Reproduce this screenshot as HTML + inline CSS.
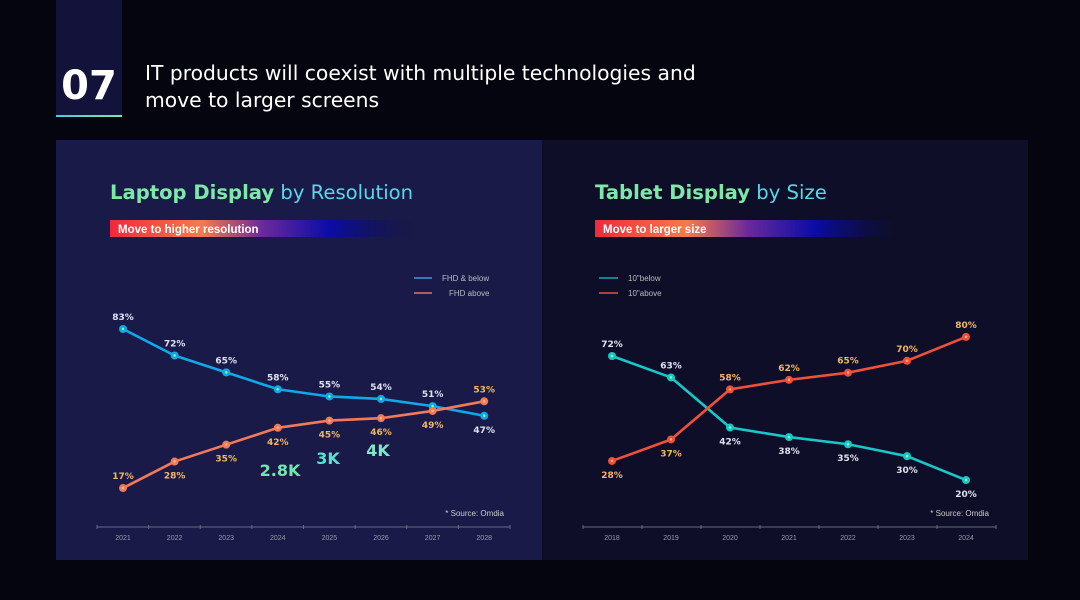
<!DOCTYPE html>
<html><head><meta charset="utf-8"><style>
html,body{margin:0;padding:0;background:#05050f;width:1080px;height:600px;overflow:hidden}
svg{display:block}
text{font-family:"Liberation Sans",sans-serif}
.dv{font-family:"DejaVu Sans","Liberation Sans",sans-serif}
</style></head><body>
<svg id="s" width="1080" height="600" viewBox="0 0 1080 600" xmlns="http://www.w3.org/2000/svg">
<defs>
<linearGradient id="bar" x1="0" x2="1" y1="0" y2="0">
<stop offset="0" stop-color="#f0283c"/><stop offset="0.3" stop-color="#f77a4a"/><stop offset="0.5" stop-color="#6a2a9a"/><stop offset="0.72" stop-color="#0a0ca8"/><stop offset="1" stop-color="#0a0c50" stop-opacity="0"/>
</linearGradient>
<linearGradient id="ul" x1="0" x2="1"><stop offset="0" stop-color="#4ac8e8"/><stop offset="1" stop-color="#7ee8a8"/></linearGradient>
</defs>
<rect x="0" y="0" width="1080" height="600" fill="#05050f"/>
<rect x="56" y="0" width="66" height="116" fill="#12123a"/>
<rect x="56" y="115" width="66" height="2" fill="url(#ul)"/>
<text class="dv" x="89" y="99" text-anchor="middle" font-size="40" font-weight="bold" fill="#fff">07</text>
<text class="dv" x="145" y="80" font-size="20.3" fill="#fff">IT products will coexist with multiple technologies and</text>
<text class="dv" x="145" y="107" font-size="20.3" fill="#fff">move to larger screens</text>
<rect x="56" y="140" width="486" height="420" fill="#1a1a48"/>
<rect x="542" y="140" width="486" height="420" fill="#0e0e28"/>
<text class="dv" x="110" y="199" font-size="19.6" fill="#7ee8a8"><tspan font-weight="bold">Laptop Display</tspan><tspan fill="#5ad8e8"> by Resolution</tspan></text>
<rect x="110" y="220" width="305" height="17" fill="url(#bar)"/>
<text x="118" y="233" font-size="11.5" font-weight="bold" fill="#fff">Move to higher resolution</text>
<text class="dv" x="595" y="199" font-size="19.6" fill="#7ee8a8"><tspan font-weight="bold">Tablet Display</tspan><tspan fill="#5ad8e8"> by Size</tspan></text>
<rect x="595" y="220" width="305" height="17" fill="url(#bar)"/>
<text x="603" y="233" font-size="11.5" font-weight="bold" fill="#fff">Move to larger size</text>
<line x1="414" y1="278" x2="432" y2="278" stroke="#3a9ad8" stroke-width="1.5"/>
<text x="442" y="281" font-size="8" fill="#bbb">FHD &amp; below</text>
<line x1="414" y1="293" x2="432" y2="293" stroke="#e87060" stroke-width="1.5"/>
<text x="449" y="296" font-size="8" fill="#bbb">FHD above</text>
<line x1="599" y1="278" x2="618" y2="278" stroke="#18a8b0" stroke-width="1.5"/>
<text x="628" y="281" font-size="8" fill="#bbb">10"below</text>
<line x1="599" y1="293" x2="618" y2="293" stroke="#e85040" stroke-width="1.5"/>
<text x="628" y="296" font-size="8" fill="#bbb">10"above</text>
<text class="dv" x="280" y="476" text-anchor="middle" font-size="16" font-weight="bold" fill="#6ee8b0">2.8K</text>
<text class="dv" x="328" y="464" text-anchor="middle" font-size="16" font-weight="bold" fill="#5ae0d0">3K</text>
<text class="dv" x="378" y="456" text-anchor="middle" font-size="16" font-weight="bold" fill="#7ee8c8">4K</text>
<text x="504" y="516" text-anchor="end" font-size="8" fill="#ccc">* Source: Omdia</text>
<text x="989" y="516" text-anchor="end" font-size="8" fill="#ccc">* Source: Omdia</text>
<g id="charts"></g>
</svg>
<script>
const laptopYears=["2021","2022","2023","2024","2025","2026","2027","2028"];
const fhdBelow=[83,72,65,58,55,54,51,47];
const fhdAbove=[17,28,35,42,45,46,49,53];
const tabletYears=["2018","2019","2020","2021","2022","2023","2024"];
const below10=[72,63,42,38,35,30,20];
const above10=[28,37,58,62,65,70,80];

const NS="http://www.w3.org/2000/svg";
const g=document.getElementById('charts');
function mk(tag,attrs){const e=document.createElementNS(NS,tag);for(const k in attrs)e.setAttribute(k,attrs[k]);g.appendChild(e);return e;}

function chart(cfg){
  const xs=i=>cfg.x0+i*cfg.step;
  const ys=v=>cfg.yRef+(cfg.vRef-v)*cfg.k;
  const ax=mk('line',{x1:cfg.ax0,x2:cfg.ax1,y1:527,y2:527,stroke:'#666a80','stroke-width':1});
  
  
  const n=cfg.cats.length;
  for(let i=0;i<=n;i++){
    const tx=cfg.ax0+(cfg.ax1-cfg.ax0)*i/n;
    mk('line',{x1:tx,x2:tx,y1:525,y2:529,stroke:'#666a80','stroke-width':1});
  }
  cfg.cats.forEach((c,i)=>{
    const t=mk('text',{x:xs(i),y:540,'text-anchor':'middle','font-size':7,fill:'#9a9aaa'});
    t.textContent=c;
    
    
  });
  cfg.series.forEach(s=>{
    const pts=s.vals.map((v,i)=>xs(i)+','+ys(v)).join(' ');
    const pl=mk('polyline',{points:pts,fill:'none',stroke:s.color,'stroke-width':2.6});
    
    
    s.vals.forEach((v,i)=>{
      const c=mk('circle',{cx:xs(i),cy:ys(v),r:4,fill:s.color});
      
      
      mk('circle',{cx:xs(i),cy:ys(v),r:1.2,fill:s.dot});
      const above=s.labelAbove(i);
      const t=mk('text',{x:xs(i),y:ys(v)+(above?-9:17),'text-anchor':'middle','font-size':9,'font-weight':'bold',fill:s.lc,'class':'dv'});
      t.textContent=v+'%';
      
      
    });
  });
}
chart({name:'laptop',cats:laptopYears,x0:123,step:51.6,yRef:329,vRef:83,k:2.41,ax0:97,ax1:510,
  series:[
    {name:'fhd-below',vals:fhdBelow,color:'#10a8e8',dot:'#a0ff80',lc:'#e0e0f0',labelAbove:i=>i<7},
    {name:'fhd-above',vals:fhdAbove,color:'#f07a5a',dot:'#ffc080',lc:'#f0b860',labelAbove:i=>i===0||i===7}
  ]});
chart({name:'tablet',cats:tabletYears,x0:612,step:59,yRef:356,vRef:72,k:2.385,ax0:583,ax1:996,
  series:[
    {name:'10-below',vals:below10,color:'#18c8c8',dot:'#a0ff90',lc:'#e0e0f0',labelAbove:i=>i<2},
    {name:'10-above',vals:above10,color:'#f0503a',dot:'#ffb080',lc:'#f0b860',labelAbove:i=>i>=2}
  ]});
</script>
</body></html>
